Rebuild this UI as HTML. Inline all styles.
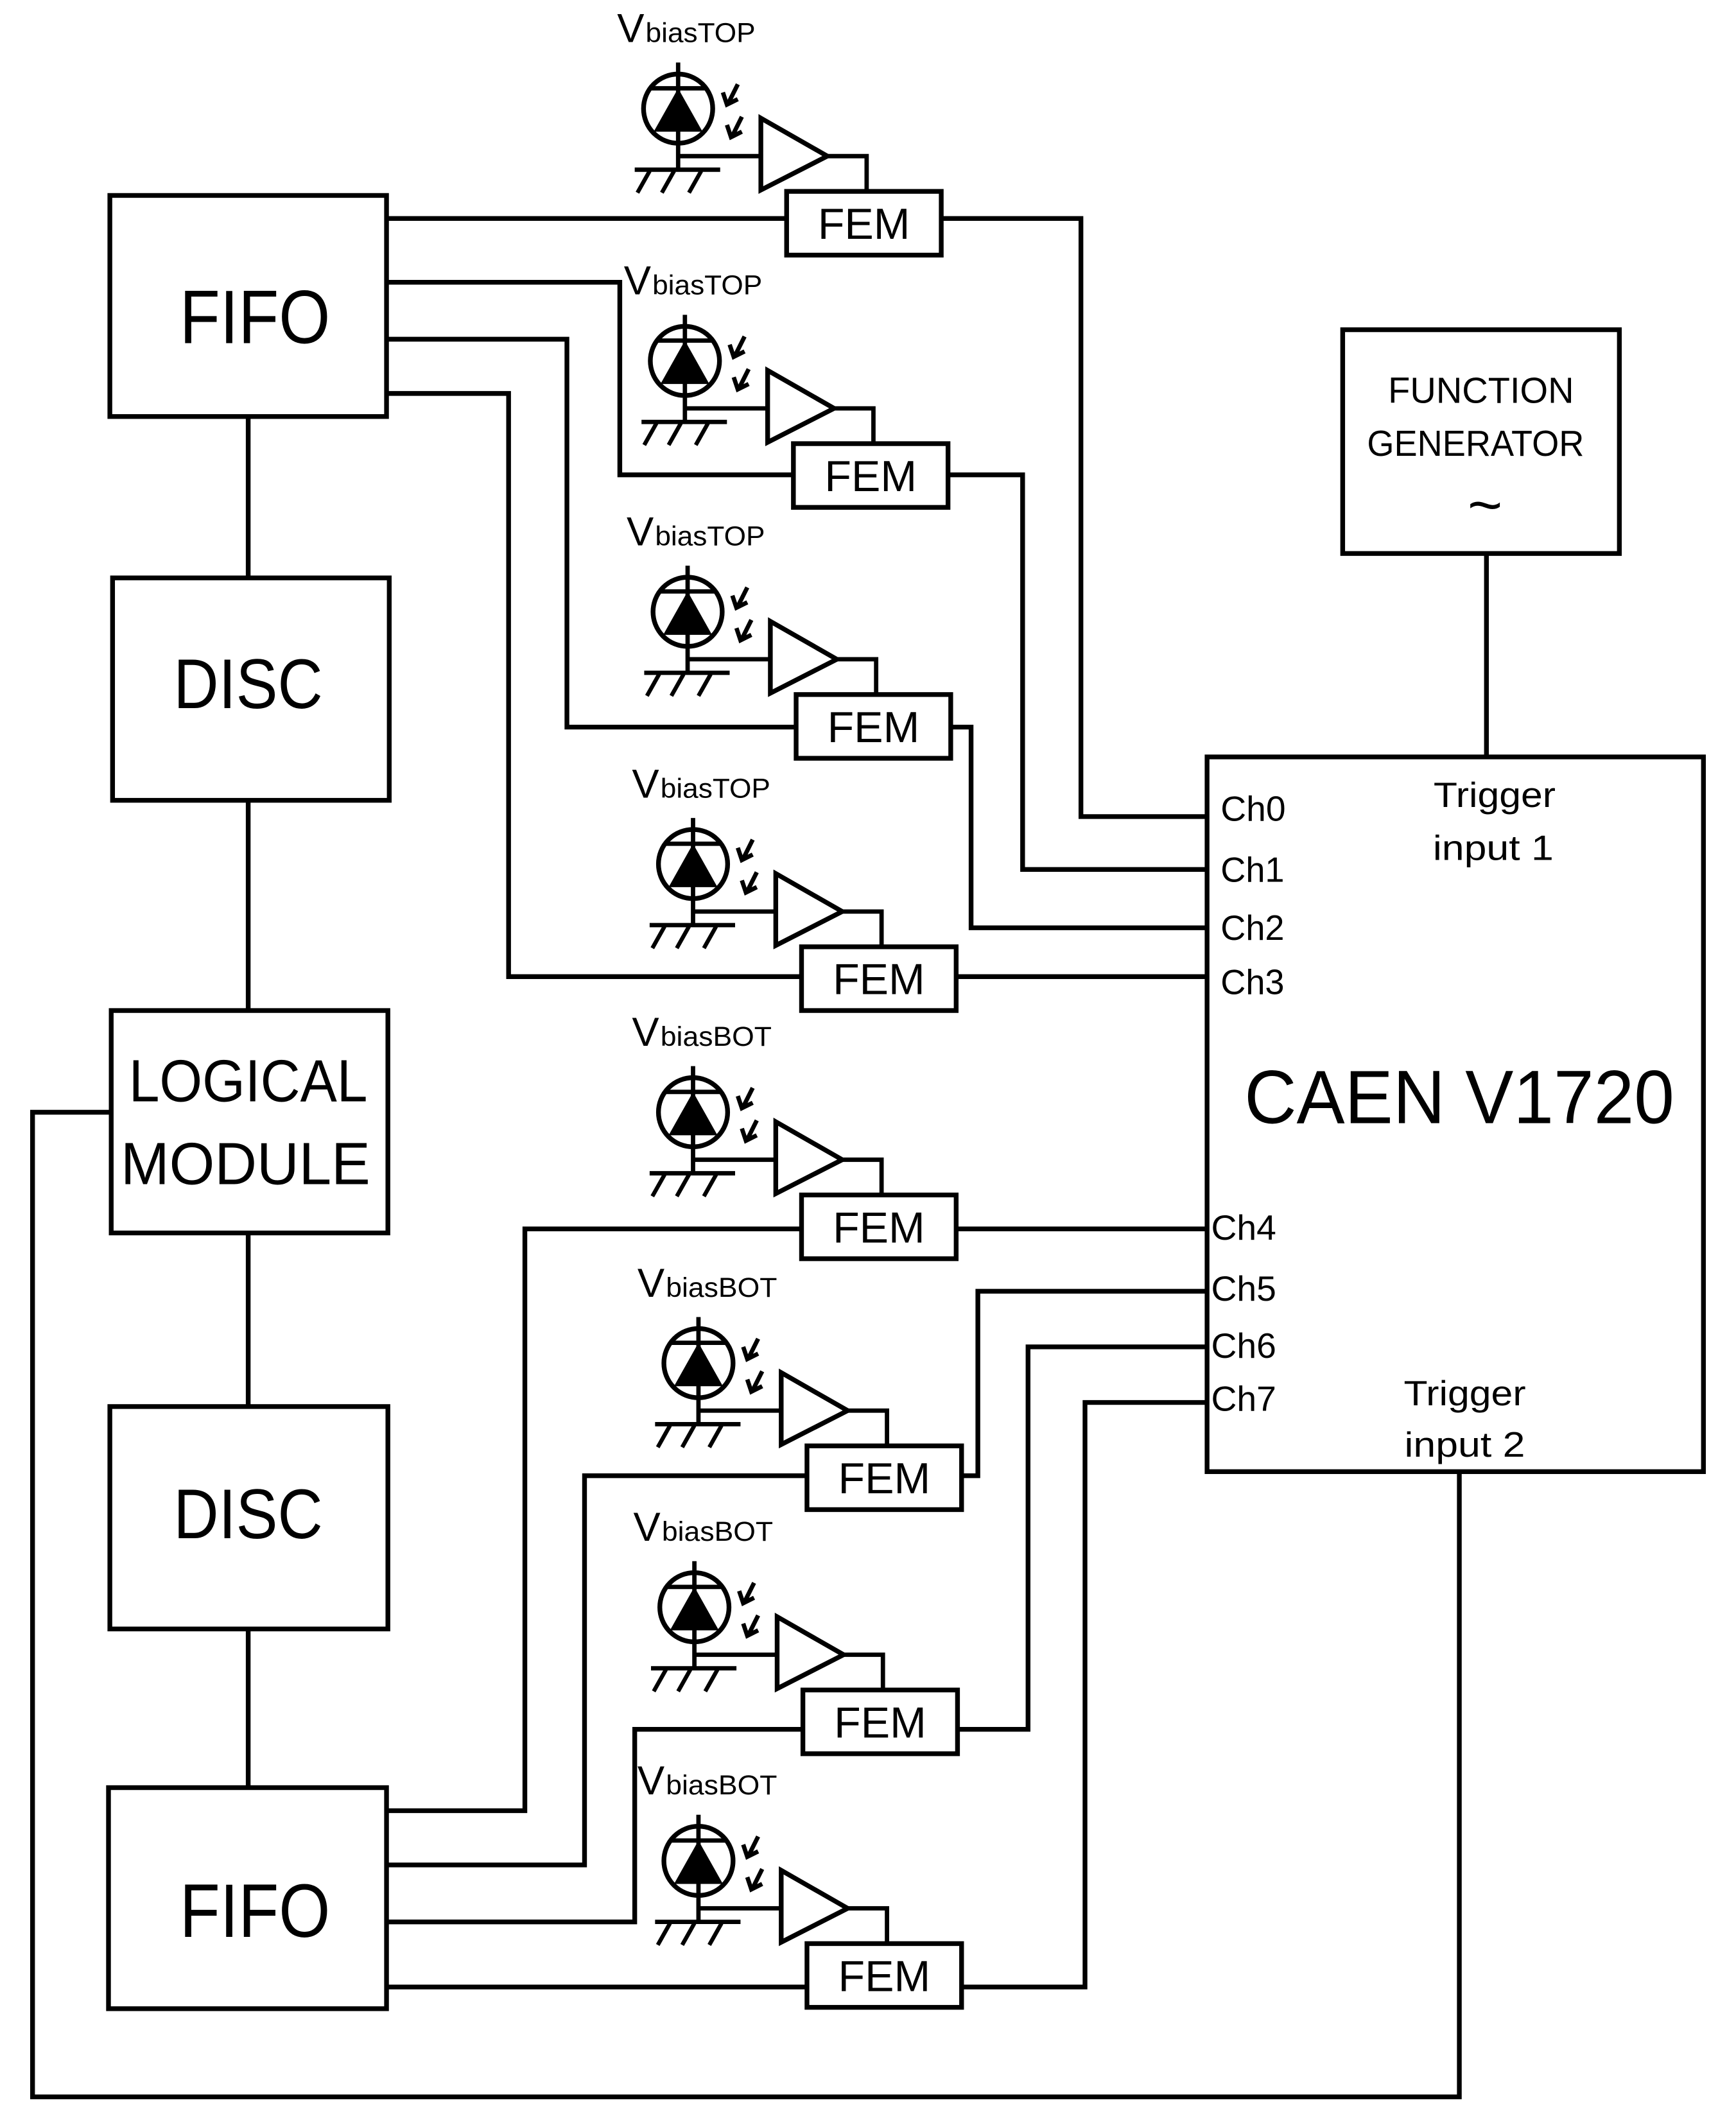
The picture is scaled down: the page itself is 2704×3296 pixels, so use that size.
<!DOCTYPE html>
<html><head><meta charset="utf-8"><style>html,body{margin:0;padding:0;background:#fff}svg{display:block}</style></head>
<body>
<svg width="2704" height="3296" viewBox="0 0 1280 1560" xmlns="http://www.w3.org/2000/svg" font-family="Liberation Sans, DejaVu Sans, sans-serif">
<defs>
<g id="pd">
  <text x="455" y="31" font-size="30" textLength="20" lengthAdjust="spacingAndGlyphs">V</text>
  <text x="476" y="31" font-size="20" textLength="81" lengthAdjust="spacingAndGlyphs">biasTOP</text>
  <line x1="500" y1="46" x2="500" y2="125" stroke="#000" stroke-width="3.2"/>
  <circle cx="500" cy="80" r="25.5" fill="none" stroke="#000" stroke-width="3.5"/>
  <line x1="480" y1="65" x2="520" y2="65" stroke="#000" stroke-width="3.2"/>
  <polygon points="500,65 482,97 518,97" fill="#000"/>
  <line x1="468" y1="125" x2="531" y2="125" stroke="#000" stroke-width="3.2"/>
  <line x1="479" y1="126" x2="470" y2="142" stroke="#000" stroke-width="3"/>
  <line x1="497" y1="126" x2="488" y2="142" stroke="#000" stroke-width="3"/>
  <line x1="517" y1="126" x2="508" y2="142" stroke="#000" stroke-width="3"/>
  <polyline points="500,115 561,115" fill="none" stroke="#000" stroke-width="3.2"/>
  <polygon points="561,87 610,115 561,140" fill="none" stroke="#000" stroke-width="3.5"/>
  <polyline points="610,115 639,115 639,141" fill="none" stroke="#000" stroke-width="3.2"/>
  <path d="M544,62 L537,76 M533,68 L536,77 L544,73" fill="none" stroke="#000" stroke-width="3.2"/>
  <path d="M547,86 L540,100 M536,92 L539,101 L547,97" fill="none" stroke="#000" stroke-width="3.2"/>
  <rect x="580" y="141" width="114" height="47" fill="#fff" stroke="#000" stroke-width="3.5"/>
  <text x="637" y="176" font-size="32" text-anchor="middle" textLength="68" lengthAdjust="spacingAndGlyphs">FEM</text>
</g>
<g id="pdb">
  <text x="455" y="31" font-size="30" textLength="20" lengthAdjust="spacingAndGlyphs">V</text>
  <text x="476" y="31" font-size="20" textLength="82" lengthAdjust="spacingAndGlyphs">biasBOT</text>
  <line x1="500" y1="46" x2="500" y2="125" stroke="#000" stroke-width="3.2"/>
  <circle cx="500" cy="80" r="25.5" fill="none" stroke="#000" stroke-width="3.5"/>
  <line x1="480" y1="65" x2="520" y2="65" stroke="#000" stroke-width="3.2"/>
  <polygon points="500,65 482,97 518,97" fill="#000"/>
  <line x1="468" y1="125" x2="531" y2="125" stroke="#000" stroke-width="3.2"/>
  <line x1="479" y1="126" x2="470" y2="142" stroke="#000" stroke-width="3"/>
  <line x1="497" y1="126" x2="488" y2="142" stroke="#000" stroke-width="3"/>
  <line x1="517" y1="126" x2="508" y2="142" stroke="#000" stroke-width="3"/>
  <polyline points="500,115 561,115" fill="none" stroke="#000" stroke-width="3.2"/>
  <polygon points="561,87 610,115 561,140" fill="none" stroke="#000" stroke-width="3.5"/>
  <polyline points="610,115 639,115 639,141" fill="none" stroke="#000" stroke-width="3.2"/>
  <path d="M544,62 L537,76 M533,68 L536,77 L544,73" fill="none" stroke="#000" stroke-width="3.2"/>
  <path d="M547,86 L540,100 M536,92 L539,101 L547,97" fill="none" stroke="#000" stroke-width="3.2"/>
  <rect x="580" y="141" width="114" height="47" fill="#fff" stroke="#000" stroke-width="3.5"/>
  <text x="637" y="176" font-size="32" text-anchor="middle" textLength="68" lengthAdjust="spacingAndGlyphs">FEM</text>
</g>
</defs>

<g fill="none" stroke="#000" stroke-width="3.5">
  <!-- wires top -->
  <polyline points="285,161 580,161"/>
  <polyline points="694,161 797,161 797,602 890,602"/>
  <polyline points="285,208 457,208 457,350 585,350"/>
  <polyline points="699,350 754,350 754,641 890,641"/>
  <polyline points="285,250 418,250 418,536 587,536"/>
  <polyline points="701,536 716,536 716,684 890,684"/>
  <polyline points="285,290 375,290 375,720 591,720"/>
  <polyline points="705,720 890,720"/>
  <!-- wires bottom -->
  <polyline points="285,1335 387,1335 387,906 591,906"/>
  <polyline points="705,906 890,906"/>
  <polyline points="285,1375 431,1375 431,1088 595,1088"/>
  <polyline points="708,1088 721,1088 721,952 890,952"/>
  <polyline points="285,1417 468,1417 468,1275 591,1275"/>
  <polyline points="706,1275 758,1275 758,993 890,993"/>
  <polyline points="285,1465 595,1465"/>
  <polyline points="708,1465 800,1465 800,1034 890,1034"/>
  <!-- vertical left chain -->
  <line x1="183" y1="307" x2="183" y2="426"/>
  <line x1="183" y1="590" x2="183" y2="745"/>
  <line x1="183" y1="909" x2="183" y2="1037"/>
  <line x1="183" y1="1201" x2="183" y2="1318"/>
  <!-- trigger loop -->
  <polyline points="1076,1085 1076,1546 24,1546 24,820 82,820"/>
  <line x1="1096" y1="408" x2="1096" y2="558"/>
  <!-- boxes -->
  <rect x="81" y="144" width="204" height="163" fill="#fff"/>
  <rect x="83" y="426" width="204" height="164" fill="#fff"/>
  <rect x="82" y="745" width="204" height="164" fill="#fff"/>
  <rect x="81" y="1037" width="205" height="164" fill="#fff"/>
  <rect x="80" y="1318" width="205" height="163" fill="#fff"/>
  <rect x="990" y="243" width="204" height="165" fill="#fff"/>
  <rect x="890" y="558" width="366" height="527" fill="#fff"/>
</g>

<use href="#pd" transform="translate(0,0)"/>
<use href="#pd" transform="translate(5,186)"/>
<use href="#pd" transform="translate(7,371)"/>
<use href="#pd" transform="translate(11,557)"/>
<use href="#pdb" transform="translate(11,740)"/>
<use href="#pdb" transform="translate(15,925)"/>
<use href="#pdb" transform="translate(12,1105)"/>
<use href="#pdb" transform="translate(15,1292)"/>

<g fill="#000">
  <text x="188" y="253" font-size="56" text-anchor="middle" textLength="111" lengthAdjust="spacingAndGlyphs">FIFO</text>
  <text x="183" y="522" font-size="52" text-anchor="middle" textLength="110" lengthAdjust="spacingAndGlyphs">DISC</text>
  <text x="183" y="812" font-size="44" text-anchor="middle" textLength="176" lengthAdjust="spacingAndGlyphs">LOGICAL</text>
  <text x="181" y="873" font-size="44" text-anchor="middle" textLength="184" lengthAdjust="spacingAndGlyphs">MODULE</text>
  <text x="183" y="1134" font-size="52" text-anchor="middle" textLength="110" lengthAdjust="spacingAndGlyphs">DISC</text>
  <text x="188" y="1428" font-size="56" text-anchor="middle" textLength="111" lengthAdjust="spacingAndGlyphs">FIFO</text>
  <text x="1092" y="297" font-size="27" text-anchor="middle" textLength="137" lengthAdjust="spacingAndGlyphs">FUNCTION</text>
  <text x="1088" y="336" font-size="27" text-anchor="middle" textLength="160" lengthAdjust="spacingAndGlyphs">GENERATOR</text>
  <text x="1095" y="387" font-size="44" text-anchor="middle">~</text>
  <text x="1076" y="828" font-size="56" text-anchor="middle" textLength="317" lengthAdjust="spacingAndGlyphs">CAEN V1720</text>
  <text x="1102" y="595" font-size="26" text-anchor="middle" textLength="90" lengthAdjust="spacingAndGlyphs">Trigger</text>
  <text x="1101" y="634" font-size="26" text-anchor="middle" textLength="89" lengthAdjust="spacingAndGlyphs">input 1</text>
  <text x="1080" y="1036" font-size="26" text-anchor="middle" textLength="90" lengthAdjust="spacingAndGlyphs">Trigger</text>
  <text x="1080" y="1074" font-size="26" text-anchor="middle" textLength="89" lengthAdjust="spacingAndGlyphs">input 2</text>
  <g font-size="26">
    <text x="900" y="605" textLength="48" lengthAdjust="spacingAndGlyphs">Ch0</text>
    <text x="900" y="650" textLength="47" lengthAdjust="spacingAndGlyphs">Ch1</text>
    <text x="900" y="693" textLength="47" lengthAdjust="spacingAndGlyphs">Ch2</text>
    <text x="900" y="733" textLength="47" lengthAdjust="spacingAndGlyphs">Ch3</text>
    <text x="893" y="914" textLength="48" lengthAdjust="spacingAndGlyphs">Ch4</text>
    <text x="893" y="959" textLength="48" lengthAdjust="spacingAndGlyphs">Ch5</text>
    <text x="893" y="1001" textLength="48" lengthAdjust="spacingAndGlyphs">Ch6</text>
    <text x="893" y="1040" textLength="48" lengthAdjust="spacingAndGlyphs">Ch7</text>
  </g>
</g>
</svg>
</body></html>
